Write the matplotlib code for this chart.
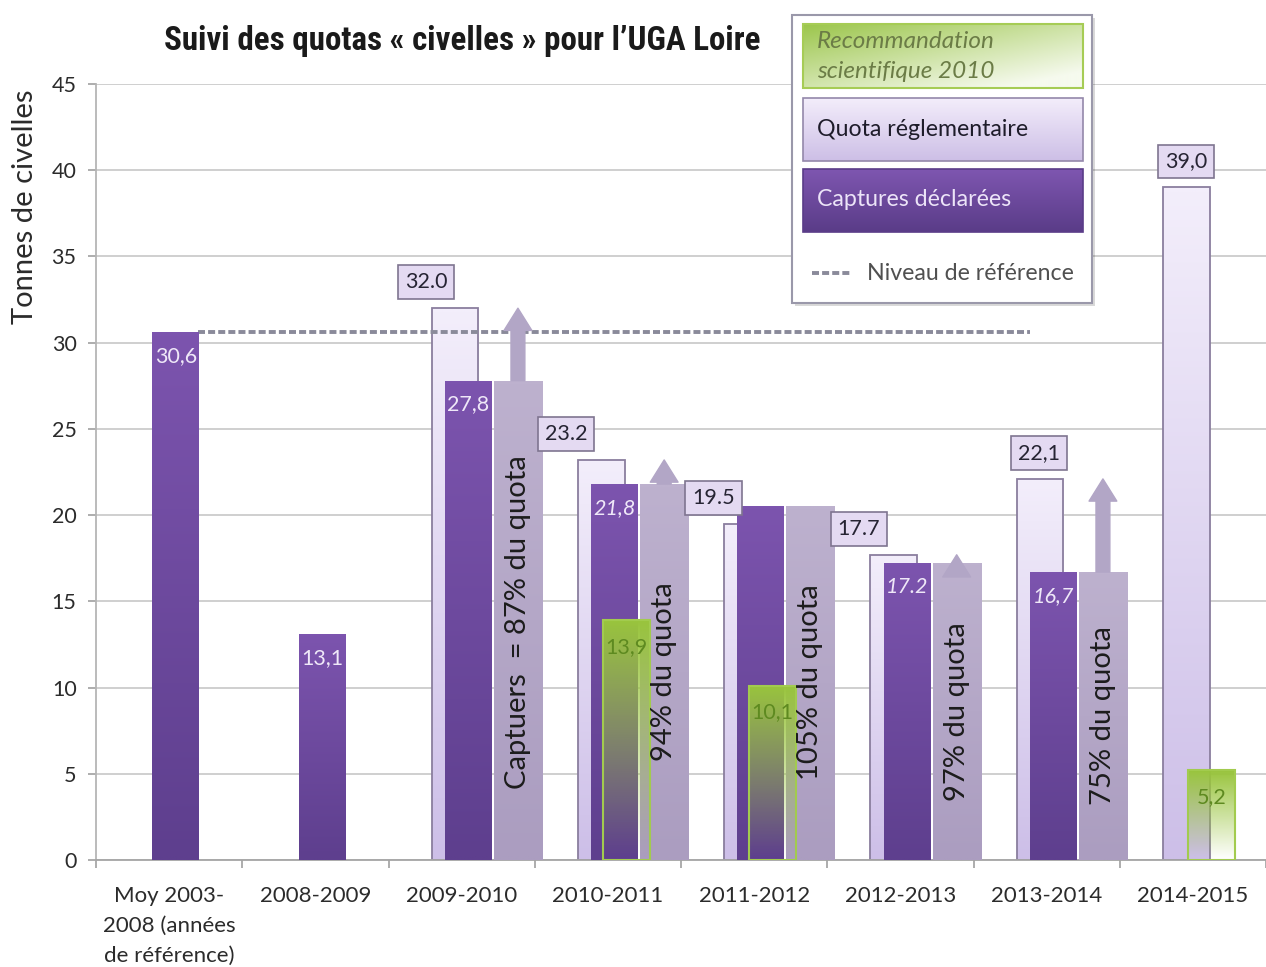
import numpy as np
import matplotlib
matplotlib.use("Agg")
import matplotlib.pyplot as plt
from matplotlib.patches import Rectangle
from matplotlib.colors import to_rgba

# ---------------- data ----------------
categories = ["Moy 2003-\n2008 (années\nde référence)", "2008-2009", "2009-2010",
              "2010-2011", "2011-2012", "2012-2013", "2013-2014", "2014-2015"]
nan = np.nan
captures = [30.6, 13.1, 27.8, 21.8, 20.5, 17.2, 16.7, nan]
quota = [nan, nan, 32.0, 23.2, 19.5, 17.7, 22.1, 39.0]
recommandation = [nan, nan, nan, 13.9, 10.1, nan, nan, 5.2]
comparaison = [nan, nan, 27.8, 21.8, 20.5, 17.2, 16.7, nan]
capture_labels = ["30,6", "13,1", "27,8", "21,8", "", "17.2", "16,7", ""]
capture_italic = [False, False, False, True, False, True, True, False]
quota_labels = ["", "", "32.0", "23.2", "19.5", "17.7", "22,1", "39,0"]
reco_labels = ["", "", "", "13,9", "10,1", "", "", "5,2"]
ratio_labels = ["", "", "Captuers  = 87% du quota", "94% du quota", "105% du quota",
                "97% du quota", "75% du quota", ""]
reference_level = 30.6
y_ticks = [0, 5, 10, 15, 20, 25, 30, 35, 40, 45]

# ---------------- layout ----------------
W, H = 1266, 967
FONT = ["Lato", "DejaVu Sans"]
plt.rcParams["font.family"] = FONT
fig = plt.figure(figsize=(W / 100, H / 100), dpi=100)
ax = fig.add_axes([96 / W, (H - 860) / H, (W - 96) / W, (860 - 84) / H])

x = np.arange(len(categories))
bw = 0.32
off_quota, off_capt, off_reco, off_comp = -0.045, 0.045, 0.125, 0.385
ratio_text_y = [None, None, 13.8, 10.9, 10.3, 8.6, 8.4, None]
quota_label_dx = [0, 0, -29, -35, -34, -35, -1, 0]   # px offsets for the value boxes


def gradient(ax, rect, top, bottom, zorder):
    x0, y0 = rect.get_x(), rect.get_y()
    w, h = rect.get_width(), rect.get_height()
    if not np.isfinite(h) or h == 0:
        return
    t = np.linspace(0, 1, 64)[:, None, None]
    img = (1 - t) * np.array(to_rgba(top)) + t * np.array(to_rgba(bottom))
    im = ax.imshow(img, extent=[x0, x0 + w, y0, y0 + h], origin="upper",
                   aspect="auto", zorder=zorder, interpolation="bilinear")
    im.set_clip_path(rect)


# quota bars
qb = ax.bar(x + off_quota, quota, bw, facecolor="none", edgecolor="#8a7e9e",
            linewidth=1.3, zorder=2.5)
for r in qb:
    gradient(ax, r, "#f3eefb", "#cdbfe8", 2)

# captures bars
cb = ax.bar(x + off_capt, captures, bw, facecolor="none", edgecolor="none", zorder=3.5)
for r in cb:
    gradient(ax, r, "#7c54ae", "#5e3f8e", 3)

# comparison bars (grey-lavender)
gb = ax.bar(x + off_comp, comparaison, 0.33, facecolor="none", edgecolor="none", zorder=4.5)
for r in gb:
    gradient(ax, r, "#bdb1ce", "#ab9dc0", 4)

# arrows from captures to quota
for i in range(len(categories)):
    if np.isfinite(comparaison[i]) and np.isfinite(quota[i]) and quota[i] > comparaison[i]:
        ax.annotate("", xy=(x[i] + off_comp, quota[i]), xytext=(x[i] + off_comp, comparaison[i]),
                    arrowprops=dict(arrowstyle="simple,head_length=0.8,head_width=1.0,tail_width=0.5",
                                    color="#b2a6c6", mutation_scale=20, shrinkA=0, shrinkB=0),
                    zorder=4.6)

# recommandation bars (green fading)
rb = ax.bar(x + off_reco, recommandation, bw, facecolor="none", edgecolor="#a2cb4e",
            linewidth=1.5, zorder=5.5)
for r in rb:
    gradient(ax, r, (0.60, 0.77, 0.24, 1.0), (0.60, 0.77, 0.24, 0.0), 5)

# reference dashed line
ax.hlines(reference_level, 0.199, 5.884, colors="#8a8a9a", linestyles=(0, (1.8, 0.8)),
          linewidth=2.8, zorder=2.8)

# ratio texts
for i, lab in enumerate(ratio_labels):
    if lab:
        ax.text(x[i] + off_comp, ratio_text_y[i], lab, rotation=90, ha="center", va="center",
                fontsize=21, color="#1c1c1c", zorder=7)

# captures value labels
for i, lab in enumerate(capture_labels):
    if lab:
        ax.annotate(lab, (x[i] + off_capt, captures[i]), xytext=(0, -17), textcoords="offset points",
                    ha="center", va="center", fontsize=15.5, color="#efe8f8",
                    style="italic" if capture_italic[i] else "normal", zorder=7)

# recommandation value labels
for i, lab in enumerate(reco_labels):
    if lab:
        ax.annotate(lab, (x[i] + off_reco, recommandation[i]), xytext=(0, -19),
                    textcoords="offset points", ha="center", va="center", fontsize=15.5,
                    color="#5e8a20", zorder=7)

# quota value boxes
for i, lab in enumerate(quota_labels):
    if lab:
        ax.annotate(lab, (x[i] + off_quota, quota[i]), xytext=(quota_label_dx[i] * 0.72, 18.7),
                    textcoords="offset points", ha="center", va="center", fontsize=15.5,
                    color="#262433", zorder=8,
                    bbox=dict(boxstyle="square,pad=0.32", fc="#e4daf2", ec="#7f7590", lw=1.2))

# axes styling
ax.set_xlim(-0.5, 7.44)
ax.set_ylim(0, 45)
ax.set_yticks(y_ticks)
ax.set_xticks(x)
ax.set_xticklabels(categories, fontsize=16, color="#2b2b2b", linespacing=1.62)
ax.set_xticks(np.arange(-0.5, len(categories), 1.0), minor=True)
ax.tick_params(axis="x", which="major", length=0, pad=19)
ax.tick_params(axis="x", which="minor", length=6, color="#a0a0a0", width=1.2)
ax.tick_params(axis="y", length=6, color="#a0a0a0", width=1.2, labelsize=15.5,
               labelcolor="#2b2b2b", pad=8)
for s in ["top", "right"]:
    ax.spines[s].set_visible(False)
ax.spines["left"].set_color("#b5b5b5")
ax.spines["left"].set_linewidth(1.3)
ax.spines["bottom"].set_color("#a5a5a5")
ax.spines["bottom"].set_linewidth(1.3)
ax.yaxis.grid(True, color="#cbcbcb", linewidth=1.3)
ax.set_axisbelow(True)

# y label and title
fig.text(25 / W, 1 - 207 / H, "Tonnes de civelles", rotation=90, ha="center", va="center",
         fontsize=21, color="#2b2b2b")
fig.text(462 / W, 1 - 41 / H, "Suivi des quotas « civelles » pour l’UGA Loire",
         ha="center", va="center", fontsize=23.8, color="#1a1a1a", weight="bold",
         family=["Liberation Sans Narrow", "Roboto Condensed", "DejaVu Sans"])

# ---------------- legend (drawn in pixel space) ----------------
lax = fig.add_axes([0, 0, 1, 1], zorder=10)
lax.set_xlim(0, W)
lax.set_ylim(H, 0)
lax.axis("off")
lax.add_patch(Rectangle((795, 18), 300, 288, fc="#000000", alpha=0.15, ec="none"))
lax.add_patch(Rectangle((792, 15), 300, 288, fc="white", ec="#9a98aa", lw=1.5))


def legend_box(y0, top, bottom, edge, zorder=11):
    rect = Rectangle((803, y0), 280, 63, fc="none", ec=edge, lw=1.2, zorder=zorder + 1)
    lax.add_patch(rect)
    t = np.linspace(0, 1, 64)[:, None, None]
    img = (1 - t) * np.array(to_rgba(top)) + t * np.array(to_rgba(bottom))
    im = lax.imshow(img, extent=[803, 1083, y0 + 63, y0], origin="upper", aspect="auto",
                    zorder=zorder, interpolation="bilinear")
    im.set_clip_path(rect)


# green box with diagonal gradient
grect = Rectangle((803, 24), 280, 64, fc="none", ec="#a6cc55", lw=1.5, zorder=12)
lax.add_patch(grect)
gy, gx = np.mgrid[0:1:64j, 0:1:128j]
tt = np.clip(0.55 * gx + 0.6 * gy, 0, 1)[..., None]
gimg = (1 - tt) * np.array(to_rgba("#9cc64c")) + tt * np.array(to_rgba("#f6faee"))
gim = lax.imshow(gimg, extent=[803, 1083, 88, 24], origin="upper", aspect="auto", zorder=11)
gim.set_clip_path(grect)
lax.text(817, 42, "Recommandation", style="italic", fontsize=17.5, color="#6b7c46",
         va="center", ha="left", zorder=13)
lax.text(817, 71, "scientifique 2010", style="italic", fontsize=17.5, color="#6b7c46",
         va="center", ha="left", zorder=13)

legend_box(98, "#f3edfb", "#cdbfe6", "#9488aa")
lax.text(817, 129, "Quota réglementaire", fontsize=16.7, color="#1e1c2a", va="center",
         ha="left", zorder=13)
legend_box(169, "#7e56b0", "#5a3c88", "#5a3c88")
lax.text(817, 200, "Captures déclarées", fontsize=16.7, color="#ece4f8", va="center",
         ha="left", zorder=13)
lax.plot([812, 850], [273, 273], color="#8a8a9a", lw=2.8, ls=(0, (1.8, 0.8)), zorder=13)
lax.text(867, 273, "Niveau de référence", fontsize=16.7, color="#505050", va="center",
         ha="left", zorder=13)

fig.savefig("out.png", dpi=100)
